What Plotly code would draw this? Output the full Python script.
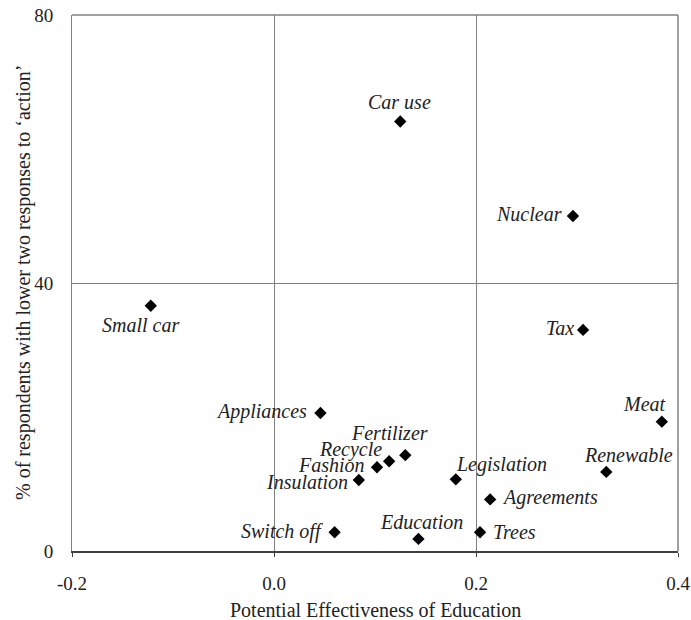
import plotly.graph_objects as go

labels = ["Car use", "Nuclear", "Small car", "Tax", "Meat", "Appliances", "Renewable",
          "Fertilizer", "Recycle", "Fashion", "Insulation", "Legislation", "Agreements",
          "Switch off", "Education", "Trees"]
x_vals = [0.125, 0.296, -0.122, 0.306, 0.384, 0.046, 0.329,
          0.130, 0.114, 0.102, 0.084, 0.180, 0.214,
          0.060, 0.143, 0.204]
y_vals = [64.1, 50.0, 36.6, 33.0, 19.3, 20.6, 11.8,
          14.3, 13.4, 12.5, 10.6, 10.7, 7.7,
          2.8, 1.8, 2.8]
x_ticks = [-0.2, 0.0, 0.2, 0.4]
x_tick_text = ["-0.2", "0.0", "0.2", "0.4"]
y_ticks = [0, 40, 80]
x_title = "Potential Effectiveness of Education"
y_title = "% of respondents with lower two responses to ‘action’"

# label placement: (xanchor, xshift, yshift), all vertically centred
placement = {
    "Car use": ("center", -1, 20),
    "Nuclear": ("right", -9, 2),
    "Small car": ("center", -10, -19),
    "Tax": ("right", -7, 2),
    "Meat": ("center", -17, 18),
    "Appliances": ("right", -11, 1),
    "Renewable": ("center", 22, 17),
    "Fertilizer": ("center", -16, 22),
    "Recycle": ("right", -5, 12),
    "Fashion": ("right", -10, 2),
    "Insulation": ("right", -9, -2),
    "Legislation": ("left", -2, 15),
    "Agreements": ("left", 10, 2),
    "Switch off": ("right", -10, 1),
    "Education": ("center", 3, 17),
    "Trees": ("left", 11, 0),
}

serif = "Liberation Serif, Times New Roman, serif"
txt = "#222222"

fig = go.Figure()
fig.add_trace(go.Scatter(
    x=x_vals, y=y_vals, mode="markers",
    marker=dict(symbol="diamond", size=9.5, color="black"),
    hoverinfo="skip", showlegend=False,
))

for lab, xv, yv in zip(labels, x_vals, y_vals):
    xa, xs, ys = placement[lab]
    fig.add_annotation(
        x=xv, y=yv, text=lab, showarrow=False,
        xanchor=xa, yanchor="middle", xshift=xs, yshift=ys,
        font=dict(family=serif, size=20, color=txt, style="italic"),
    )

# axis titles
fig.add_annotation(xref="paper", yref="paper", x=0.5, y=0, yanchor="middle",
                   yshift=-59, text=x_title, showarrow=False,
                   font=dict(family=serif, size=20, color=txt))
fig.add_annotation(xref="paper", yref="paper", x=0, y=0.5, xanchor="center",
                   xshift=-49, text=y_title, textangle=-90, showarrow=False,
                   font=dict(family=serif, size=20, color=txt))

fig.update_layout(
    width=691, height=620,
    margin=dict(l=72, r=13, t=15, b=69, autoexpand=False),
    paper_bgcolor="white", plot_bgcolor="white",
    font=dict(family=serif, size=19, color=txt),
    xaxis=dict(
        range=[-0.2, 0.4], tickvals=x_ticks, ticktext=x_tick_text,
        showgrid=True, gridcolor="#808080", gridwidth=1,
        zeroline=False, showline=True, linecolor="#404040", linewidth=2,
        mirror=False, ticks="outside", ticklen=4, tickcolor="#404040",
        ticklabelstandoff=10, automargin=False, ticklabeloverflow="allow",
        tickfont=dict(family=serif, size=19, color=txt),
    ),
    yaxis=dict(
        range=[0, 80], tickvals=y_ticks,
        showgrid=True, gridcolor="#808080", gridwidth=1,
        zeroline=False, showline=True, linecolor="#808080", linewidth=1,
        ticks="", ticklabelstandoff=14, automargin=False, ticklabeloverflow="allow",
        tickfont=dict(family=serif, size=19, color=txt),
    ),
)
# top and right frame lines
fig.add_shape(type="line", xref="paper", yref="paper", x0=0, x1=1, y0=1, y1=1,
              line=dict(color="#808080", width=1.5))
fig.add_shape(type="line", xref="paper", yref="paper", x0=1, x1=1, y0=0, y1=1,
              line=dict(color="#808080", width=1.5))

fig.write_html("out.html", config={"displayModeBar": False},
               post_script="document.body.style.margin='0';")
